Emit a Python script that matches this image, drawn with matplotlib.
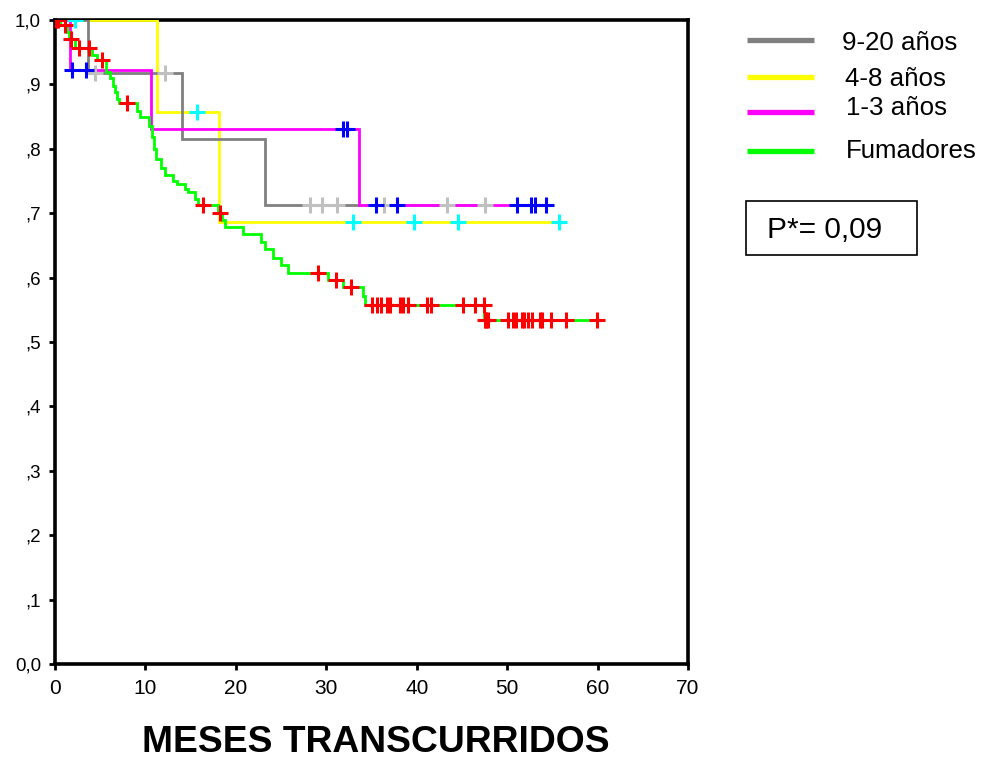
import matplotlib
matplotlib.use("Agg")
import matplotlib.pyplot as plt
import numpy as np
from matplotlib.lines import Line2D
from matplotlib.patches import Rectangle

plt.rcParams['font.family'] = ['Liberation Sans', 'DejaVu Sans']

# ---------------- data ----------------
groups = ["9-20 años", "4-8 años", "1-3 años", "Fumadores"]
line_colors = ["#808080", "#ffff00", "#ff00ff", "#00ff00"]
censor_colors = ["#c0c0c0", "#00ffff", "#0000ff", "#ff0000"]

gray_drop_t = [3.6, 14.0, 23.2]
gray_surv = [0.917, 0.815, 0.713]
gray_cens_t = [4.4, 12.2, 28.2, 29.5, 31.2, 36.4, 43.4, 47.5]

yellow_drop_t = [11.3, 18.1]
yellow_surv = [0.857, 0.686]
yellow_cens_t = [2.2, 15.7, 32.9, 39.7, 44.6, 55.7]

magenta_drop_t = [1.7, 10.6, 33.6]
magenta_surv = [0.923, 0.831, 0.712]
magenta_cens_t = [1.9, 3.4, 31.9, 32.3, 35.5, 37.8, 51.1, 52.6, 53.1, 54.3]

green_drop_t = [0.5, 1.3, 1.6, 2.2, 4.1, 4.6, 5.6, 6.1, 6.4, 6.6, 6.85, 7.1,
                9.1, 9.4, 10.4, 10.75, 10.95, 11.2, 11.7, 12.2, 13.0, 13.5,
                14.4, 14.7, 15.5, 15.8, 18.0, 18.5, 18.8, 20.8, 22.8, 23.2,
                24.1, 25.0, 25.8, 30.2, 31.9, 34.1, 34.3, 47.45]
green_surv = [0.993, 0.982, 0.970, 0.956, 0.946, 0.938, 0.919, 0.910, 0.897,
              0.888, 0.877, 0.871, 0.858, 0.849, 0.835, 0.818, 0.800, 0.784,
              0.770, 0.759, 0.750, 0.745, 0.737, 0.733, 0.722, 0.713, 0.701,
              0.690, 0.678, 0.667, 0.655, 0.644, 0.631, 0.620, 0.607, 0.597,
              0.585, 0.571, 0.558, 0.534]
green_cens_t = [0.1, 0.3, 1.1, 1.8, 2.6, 3.8, 5.2, 8.0, 16.4, 18.2, 29.1, 31.1,
                32.7, 35.0, 35.6, 36.1, 36.7, 37.1, 38.1, 38.5, 39.0, 41.1,
                41.6, 45.1, 46.4, 47.4, 47.5, 47.7, 47.9, 50.1, 50.6, 51.0,
                51.6, 51.9, 52.3, 52.8, 53.6, 53.9, 54.9, 56.5, 59.9]

drop_times = [gray_drop_t, yellow_drop_t, magenta_drop_t, green_drop_t]
survs = [gray_surv, yellow_surv, magenta_surv, green_surv]
cens_times = [gray_cens_t, yellow_cens_t, magenta_cens_t, green_cens_t]

x_ticks = [0, 10, 20, 30, 40, 50, 60, 70]
y_ticks = [0.0, 0.1, 0.2, 0.3, 0.4, 0.5, 0.6, 0.7, 0.8, 0.9, 1.0]
y_tick_labels = ["0,0", ",1", ",2", ",3", ",4", ",5", ",6", ",7", ",8", ",9", "1,0"]
x_label = "MESES TRANSCURRIDOS"
p_text = "P*= 0,09"

# ---------------- figure ----------------
W, H = 981, 780
fig = plt.figure(figsize=(W / 100, H / 100), dpi=100)
ax = fig.add_axes([55 / W, 1 - 664 / H, (688 - 55) / W, (664 - 20) / H])

draw_order = [1, 0, 2, 3]
for k, i in enumerate(draw_order):
    d = drop_times[i]
    s = survs[i]
    end = max(cens_times[i])
    xs = [0.0] + list(d) + [end]
    ys = [1.0] + list(s) + [s[-1]]
    ax.step(xs, ys, where='post', color=line_colors[i], lw=2.0,
            solid_joinstyle='miter', zorder=3 + k * 0.1)

for i in range(4):
    d = np.array(drop_times[i])
    levels = np.array([1.0] + list(survs[i]))
    ct = np.array(cens_times[i])
    idx = np.searchsorted(d, ct, side='right')
    ax.plot(ct, levels[idx], linestyle='none', marker='+', ms=11, mew=2.2,
            color=censor_colors[i], zorder=5)

ax.set_xlim(0, 70)
ax.set_ylim(0, 1.0)
ax.set_xticks(x_ticks)
ax.set_xticklabels([str(v) for v in x_ticks])
ax.set_yticks(y_ticks)
ax.set_yticklabels(y_tick_labels)
for sp in ax.spines.values():
    sp.set_linewidth(2.6)
    sp.set_color('black')
ax.tick_params(axis='both', direction='out', length=4.5, width=2,
               colors='black', top=False, right=False)
ax.tick_params(axis='y', pad=5.5, labelsize=13.5)
ax.tick_params(axis='x', pad=6, labelsize=15)

# x label
fig.text(376 / W, 1 - 752 / H, x_label, ha='center', va='baseline',
         fontsize=26.8, fontweight='bold')

# legend (manual)
leg_line_y = [39.5, 77, 111.5, 150.5]
leg_text_x = [842, 845, 846, 846]
leg_text_base = [50, 86, 115, 157.5]
for i in range(4):
    fig.add_artist(Line2D([746.5 / W, 813.5 / W],
                          [1 - leg_line_y[i] / H, 1 - leg_line_y[i] / H],
                          color=line_colors[i], lw=3.8,
                          solid_capstyle='butt', transform=fig.transFigure))
    fig.text(leg_text_x[i] / W, 1 - leg_text_base[i] / H, groups[i],
             ha='left', va='baseline', fontsize=18.6)

# P box
fig.add_artist(Rectangle((746 / W, 1 - 255 / H), (917 - 746) / W, (255 - 201) / H,
                         fill=False, edgecolor='black', lw=1.2,
                         transform=fig.transFigure))
fig.text(767 / W, 1 - 237.5 / H, p_text, ha='left', va='baseline', fontsize=21.5)

fig.savefig("out.png", dpi=100)
